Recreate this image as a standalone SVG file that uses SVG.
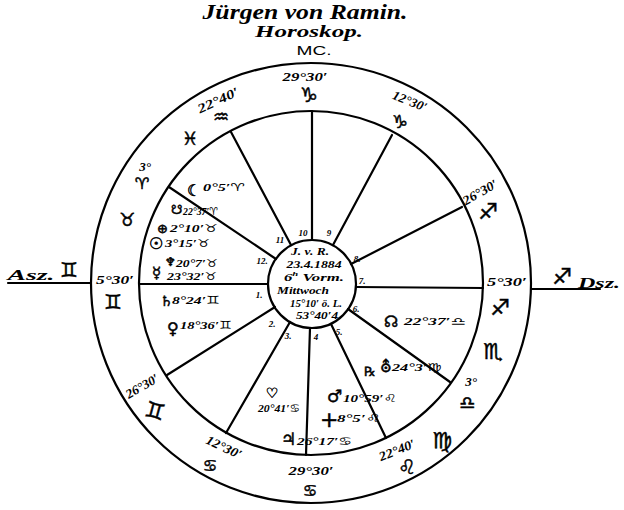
<svg xmlns="http://www.w3.org/2000/svg" width="624" height="510" viewBox="0 0 624 510">
<style>
.ln{stroke:#000;stroke-width:2.2;fill:none;stroke-linecap:round}
text{font-family:"Liberation Serif","DejaVu Sans",serif;font-style:italic;font-weight:bold;fill:#000;dominant-baseline:central}
.m{text-anchor:middle}
.s{text-anchor:start}
.sym{font-family:"DejaVu Sans",sans-serif;font-style:normal;font-weight:normal;stroke:#000;stroke-width:0.5}
.deg{font-size:13px}
.pl{font-size:11px}
.hn{font-size:9px;text-anchor:middle}
.ct{font-size:11px;text-anchor:middle}
</style>
<rect width="624" height="510" fill="#fff"/>
<g id="title">
<text class="m" x="305" y="12" font-size="20" textLength="205" lengthAdjust="spacingAndGlyphs">Jürgen von Ramin.</text>
<text class="m" x="309" y="31" font-size="17" textLength="108" lengthAdjust="spacingAndGlyphs">Horoskop.</text>
<text class="m" x="314" y="50" font-size="13" style="font-family:'Liberation Sans',sans-serif;font-style:normal;font-weight:normal" textLength="35" lengthAdjust="spacingAndGlyphs">MC.</text>
</g>
<g id="circles">
<circle class="ln" cx="311" cy="283" r="220"/>
<circle class="ln" cx="311" cy="283" r="172"/>
<circle class="ln" cx="312" cy="284" r="44"/>
</g>
<g id="connectors">
<line class="ln" x1="8" y1="283" x2="91" y2="283"/>
<line class="ln" x1="531" y1="289" x2="600" y2="289"/>
<line class="ln" x1="139" y1="284" x2="268" y2="284"/>
<line class="ln" x1="356" y1="287" x2="483" y2="288"/>
<line class="ln" x1="312" y1="111" x2="312" y2="240"/>
<line class="ln" x1="310" y1="328" x2="306" y2="455"/>
<line class="ln" x1="231" y1="132" x2="291" y2="245"/>
<line class="ln" x1="392" y1="135" x2="333" y2="245"/>
<line class="ln" x1="462" y1="207" x2="351" y2="264"/>
<line class="ln" x1="169" y1="187" x2="276" y2="259"/>
<line class="ln" x1="167" y1="375" x2="275" y2="307"/>
<line class="ln" x1="226" y1="433" x2="290" y2="322"/>
<line class="ln" x1="386" y1="438" x2="331" y2="324"/>
<line class="ln" x1="450" y1="382" x2="348" y2="309"/>
</g>
<g id="outside">
<text class="m" x="31" y="275" font-size="15" textLength="47" lengthAdjust="spacingAndGlyphs">Asz.</text>
<text class="m sym" x="69" y="270" font-size="20">♊</text>
<text class="m sym" x="562" y="276" font-size="22">♐</text>
<text class="m" x="599" y="283" font-size="15" textLength="42" lengthAdjust="spacingAndGlyphs">Dsz.</text>
</g>
<g id="zodiac-ring">
<text class="m deg" x="305" y="76" textLength="45" lengthAdjust="spacingAndGlyphs">29°30′</text>
<text class="m sym" x="309" y="95" font-size="20">♑</text>
<text class="m deg" x="410" y="101" transform="rotate(22 410 101)" textLength="36" lengthAdjust="spacingAndGlyphs">12°30′</text>
<text class="m sym" x="400" y="121" font-size="18">♑</text>
<text class="m deg" x="218" y="100" transform="rotate(-25 218 100)" textLength="44" lengthAdjust="spacingAndGlyphs">22°40′</text>
<text class="m sym" x="221" y="116" font-size="18">♒</text>
<text class="m sym" x="190" y="138" font-size="18">♓</text>
<text class="m deg" x="145" y="166">3°</text>
<text class="m sym" x="142" y="183" font-size="16">♈</text>
<text class="m sym" x="127" y="219" font-size="18">♉</text>
<text class="m deg" x="115" y="279" textLength="38" lengthAdjust="spacingAndGlyphs">5°30′</text>
<text class="m sym" x="113" y="302" font-size="20">♊</text>
<text class="m deg" x="142" y="386" transform="rotate(-30 142 386)" textLength="36" lengthAdjust="spacingAndGlyphs">26°30′</text>
<text class="m sym" x="155" y="411" font-size="22" transform="rotate(15 155 411)">♊</text>
<text class="m deg" x="224" y="447" transform="rotate(25 224 447)" textLength="38" lengthAdjust="spacingAndGlyphs">12°30′</text>
<text class="m sym" x="210" y="465" font-size="16">♋</text>
<text class="m deg" x="311" y="470" textLength="45" lengthAdjust="spacingAndGlyphs">29°30′</text>
<text class="m sym" x="310" y="490" font-size="16">♋</text>
<text class="m deg" x="397" y="450" transform="rotate(-22 397 450)" textLength="38" lengthAdjust="spacingAndGlyphs">22°40′</text>
<text class="m sym" x="407" y="467" font-size="20">♌</text>
<text class="m sym" x="442" y="440" font-size="22">♍</text>
<text class="m deg" x="471" y="381">3°</text>
<text class="m sym" x="467" y="402" font-size="18">♎</text>
<text class="m sym" x="493" y="351" font-size="22">♏</text>
<text class="m deg" x="507" y="281" textLength="40" lengthAdjust="spacingAndGlyphs">5°30′</text>
<text class="m sym" x="500" y="307" font-size="22">♐</text>
<text class="m deg" x="480" y="192" transform="rotate(-30 480 192)" textLength="38" lengthAdjust="spacingAndGlyphs">26°30′</text>
<text class="m sym" x="488" y="211" font-size="22">♐</text>
</g>
<g id="planets">
<text class="s sym" x="187" y="190" font-size="16">☾</text>
<text class="s pl" x="203" y="187" textLength="42" lengthAdjust="spacingAndGlyphs">0°5′♈</text>
<text class="s sym" x="171" y="209" font-size="13">☋</text>
<text class="s pl" x="183" y="211" textLength="35" lengthAdjust="spacingAndGlyphs">22°37′♈</text>
<text class="s sym" x="157" y="228" font-size="13">⊕</text>
<text class="s pl" x="170" y="228" textLength="48" lengthAdjust="spacingAndGlyphs">2°10′♉</text>
<text class="s sym" x="149" y="243" font-size="16">☉</text>
<text class="s pl" x="165" y="243" textLength="45" lengthAdjust="spacingAndGlyphs">3°15′♉</text>
<text class="s sym" x="165" y="262" font-size="12">♆</text>
<text class="s pl" x="176" y="263" textLength="42" lengthAdjust="spacingAndGlyphs">20°7′♉</text>
<text class="s sym" x="152" y="273" font-size="15">☿</text>
<text class="s pl" x="167" y="276" textLength="50" lengthAdjust="spacingAndGlyphs">23°32′♉</text>
<text class="s sym" x="160" y="301" font-size="14">♄</text>
<text class="s pl" x="172" y="300" textLength="48" lengthAdjust="spacingAndGlyphs">8°24′♊</text>
<text class="s sym" x="167" y="328" font-size="16">♀</text>
<text class="s pl" x="180" y="325" textLength="52" lengthAdjust="spacingAndGlyphs">18°36′♊</text>
<text class="s sym" x="384" y="321" font-size="16">☊</text>
<text class="s pl" x="404" y="321" textLength="62" lengthAdjust="spacingAndGlyphs">22°37′♎</text>
<text class="s sym" x="364" y="371" font-size="13">℞</text>
<text class="s sym" x="380" y="366" font-size="16">⛢</text>
<text class="s pl" x="392" y="367" textLength="50" lengthAdjust="spacingAndGlyphs">24°3′♍</text>
<text class="s sym" x="327" y="396" font-size="17">♂</text>
<text class="s pl" x="343" y="398" textLength="54" lengthAdjust="spacingAndGlyphs">10°59′♌</text>
<text class="s sym" x="320" y="419" font-size="22" font-weight="bold">+</text>
<text class="s pl" x="337" y="418" textLength="44" lengthAdjust="spacingAndGlyphs">8°5′♌</text>
<text class="s sym" x="281" y="439" font-size="17">♃</text>
<text class="s pl" x="297" y="441" textLength="55" lengthAdjust="spacingAndGlyphs">26°17′♋</text>
<text class="m sym" x="272" y="393" font-size="14">♡</text>
<text class="m pl" x="279" y="408" textLength="42" lengthAdjust="spacingAndGlyphs">20°41′♋</text>
</g>
<g id="center">
<text class="ct" x="310" y="251" textLength="38" lengthAdjust="spacingAndGlyphs">J. v. R.</text>
<text class="ct" x="314" y="264" font-size="10" textLength="55" lengthAdjust="spacingAndGlyphs">23.4.1884</text>
<text class="ct" x="314" y="277" textLength="60" lengthAdjust="spacingAndGlyphs">6<tspan font-size="7" dy="-3">h</tspan><tspan dy="3"> Vorm.</tspan></text>
<text class="ct" x="303" y="290" font-size="10" textLength="52" lengthAdjust="spacingAndGlyphs">Mittwoch</text>
<text class="ct" x="316" y="303" font-size="9" textLength="52" lengthAdjust="spacingAndGlyphs">15°10′ ö. L.</text>
<text class="ct" x="317" y="315" font-size="9" textLength="42" lengthAdjust="spacingAndGlyphs">53°40′4</text>
</g>
<g id="houses">
<text class="hn" x="303" y="233">10</text>
<text class="hn" x="329" y="233">9</text>
<text class="hn" x="280" y="240">11</text>
<text class="hn" x="262" y="261">12.</text>
<text class="hn" x="259" y="295">1.</text>
<text class="hn" x="272" y="324">2.</text>
<text class="hn" x="288" y="336">3.</text>
<text class="hn" x="316" y="337">4</text>
<text class="hn" x="339" y="332">5.</text>
<text class="hn" x="356" y="309">6.</text>
<text class="hn" x="362" y="281">7.</text>
<text class="hn" x="357" y="259">8.</text>
</g>
</svg>
